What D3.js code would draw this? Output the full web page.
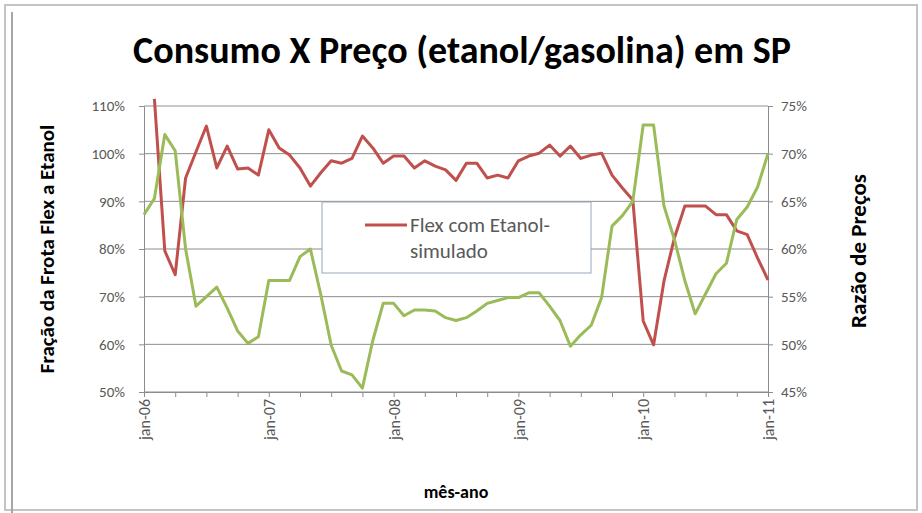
<!DOCTYPE html>
<html>
<head>
<meta charset="utf-8">
<script src="https://cdn.jsdelivr.net/npm/d3@7"></script>
<style>
  body { margin: 0; background: #fff; }
  svg text { font-family: Calibri, Carlito, Lato, sans-serif; }
</style>
</head>
<body>
<svg id="chart" width="922" height="513"></svg>
<script>
// tick labels shown on the category axis (every 12 months)
const yearLabels = ['jan-06', 'jan-07', 'jan-08', 'jan-09', 'jan-10', 'jan-11'];

// monthly categories jan-06 .. jan-11 (61 months)
const months = d3.timeMonth.range(new Date(2006, 0, 1), new Date(2011, 1, 1));
const fmtMonth = d3.timeFormat('%m-%y');

// Fração da Frota Flex a Etanol (left axis, %) - first month has no value
const flexEtanol = [
  null, 111.5, 79.6, 74.6, 94.9, 100.4, 105.8, 97, 101.6, 96.8, 97, 95.5,
  105, 101.2, 99.7, 97, 93.2, 96, 98.5, 98, 99, 103.7, 101.2, 98,
  99.5, 99.5, 97, 98.5, 97.4, 96.6, 94.4, 98, 98, 94.9, 95.5, 94.9,
  98.5, 99.5, 100.1, 101.8, 99.5, 101.6, 99, 99.7, 100.1, 95.5, 92.8, 90.3,
  64.9, 59.9, 73.3, 82.3, 89, 89, 89, 87.2, 87.2, 83.8, 83, 78.1,
  73.5
];

// Razão de Preços etanol/gasolina (right axis, %)
const razaoPrecos = [
  63.6, 65.3, 72, 70.3, 60, 54, 55, 56, 53.8, 51.4, 50.1, 50.8,
  56.7, 56.7, 56.7, 59.2, 60, 55.2, 49.9, 47.2, 46.8, 45.4, 50.4, 54.3,
  54.3, 53, 53.6, 53.6, 53.5, 52.8, 52.5, 52.8, 53.5, 54.3, 54.6, 54.9,
  54.9, 55.4, 55.4, 54, 52.5, 49.8, 51, 52, 54.9, 62.4, 63.5, 65,
  73, 73, 64.5, 61, 56.7, 53.2, 55.3, 57.4, 58.5, 63.1, 64.4, 66.5,
  70
];

const leftTicks  = [50, 60, 70, 80, 90, 100, 110];
const rightTicks = [45, 50, 55, 60, 65, 70, 75];

const svg = d3.select('#chart');
const W = 922, H = 513;
const plot = { left: 144, right: 768, top: 106, bottom: 392 };
const gray = '#595959';

// outer frame
svg.append('rect')
  .attr('x', 5).attr('y', 5)
  .attr('width', 912).attr('height', 505)
  .attr('fill', '#fff')
  .attr('stroke', '#c4c4c4')
  .attr('stroke-width', 2);
svg.append('line')
  .attr('x1', 12).attr('x2', 12)
  .attr('y1', 12).attr('y2', H)
  .attr('stroke', '#a6a6a6')
  .attr('stroke-width', 2);

const x = d3.scalePoint()
  .domain(months.map(fmtMonth))
  .range([plot.left, plot.right]);

const yLeft = d3.scaleLinear().domain([50, 110]).range([plot.bottom, plot.top]);
const yRight = d3.scaleLinear().domain([45, 75]).range([plot.bottom, plot.top]);

// gridlines
svg.append('g')
  .selectAll('line')
  .data(leftTicks)
  .join('line')
  .attr('x1', plot.left).attr('x2', plot.right)
  .attr('y1', d => yLeft(d)).attr('y2', d => yLeft(d))
  .attr('stroke', d => d === 110 ? '#c8c8c8' : '#8c8c8c')
  .attr('stroke-width', d => d === 110 ? 2 : 1);

// left axis
const leftAxis = svg.append('g')
  .attr('transform', `translate(${plot.left},0)`)
  .call(d3.axisLeft(yLeft).tickValues(leftTicks).tickSize(5).tickPadding(14)
    .tickFormat(d => d + '%'));

// right axis
const rightAxis = svg.append('g')
  .attr('transform', `translate(${plot.right},0)`)
  .call(d3.axisRight(yRight).tickValues(rightTicks).tickSize(5).tickPadding(8)
    .tickFormat(d => d + '%'));

// bottom axis: marks every 3 months, labels every 12
const monthKeys = months.map(fmtMonth);
const bottomAxis = svg.append('g')
  .attr('transform', `translate(0,${plot.bottom})`)
  .call(d3.axisBottom(x)
    .tickValues(monthKeys.filter((d, i) => i % 3 === 0))
    .tickSize(5)
    .tickFormat(d => {
      const i = monthKeys.indexOf(d);
      return i % 12 === 0 ? yearLabels[i / 12] : '';
    }));

bottomAxis.selectAll('text')
  .attr('transform', 'rotate(-90)')
  .attr('text-anchor', 'end')
  .attr('x', -7)
  .attr('y', 0)
  .attr('dy', '0.35em');

[leftAxis, rightAxis, bottomAxis].forEach(g => {
  g.select('.domain').attr('stroke', '#8c8c8c');
  g.selectAll('.tick line').attr('stroke', '#8c8c8c');
  g.selectAll('text')
    .attr('fill', gray)
    .style('font-size', '15px');
});
bottomAxis.selectAll('text').style('font-size', '16px');

// lines
const redLine = d3.line()
  .defined(d => d.v != null)
  .x(d => x(d.m))
  .y(d => yLeft(d.v));
const greenLine = d3.line()
  .x(d => x(d.m))
  .y(d => yRight(d.v));

svg.append('path')
  .datum(flexEtanol.map((v, i) => ({ m: monthKeys[i], v })))
  .attr('d', redLine)
  .attr('fill', 'none')
  .attr('stroke', '#c0504d')
  .attr('stroke-width', 3)
  .attr('stroke-linejoin', 'round');

svg.append('path')
  .datum(razaoPrecos.map((v, i) => ({ m: monthKeys[i], v })))
  .attr('d', greenLine)
  .attr('fill', 'none')
  .attr('stroke', '#9bbb59')
  .attr('stroke-width', 3)
  .attr('stroke-linejoin', 'round');

// legend
const legend = svg.append('g').attr('transform', 'translate(322,202)');
legend.append('rect')
  .attr('width', 269).attr('height', 71)
  .attr('fill', '#fff')
  .attr('stroke', '#9aa6b5');
legend.append('line')
  .attr('x1', 43).attr('x2', 85)
  .attr('y1', 23).attr('y2', 23)
  .attr('stroke', '#c0504d')
  .attr('stroke-width', 3);
const legText = legend.append('text')
  .attr('fill', gray)
  .style('font-size', '21px');
legText.append('tspan').attr('x', 88).attr('y', 30).text('Flex com Etanol-');
legText.append('tspan').attr('x', 88).attr('y', 56).text('simulado');

// titles
svg.append('text')
  .attr('x', 462).attr('y', 63)
  .attr('text-anchor', 'middle')
  .style('font-size', '38px')
  .style('font-weight', 'bold')
  .attr('fill', '#000')
  .text('Consumo X Preço (etanol/gasolina) em SP');

svg.append('text')
  .attr('transform', `translate(54,${(plot.top + plot.bottom) / 2}) rotate(-90)`)
  .attr('text-anchor', 'middle')
  .style('font-size', '21px')
  .style('font-weight', 'bold')
  .attr('fill', '#000')
  .text('Fração da Frota Flex a Etanol');

svg.append('text')
  .attr('transform', `translate(866,${(plot.top + plot.bottom) / 2 + 2}) rotate(-90)`)
  .attr('text-anchor', 'middle')
  .style('font-size', '23px')
  .style('font-weight', 'bold')
  .attr('fill', '#000')
  .text('Razão de Preços');

svg.append('text')
  .attr('x', (plot.left + plot.right) / 2).attr('y', 498)
  .attr('text-anchor', 'middle')
  .style('font-size', '18px')
  .style('font-weight', 'bold')
  .attr('fill', '#000')
  .text('mês-ano');
</script>
</body>
</html>
